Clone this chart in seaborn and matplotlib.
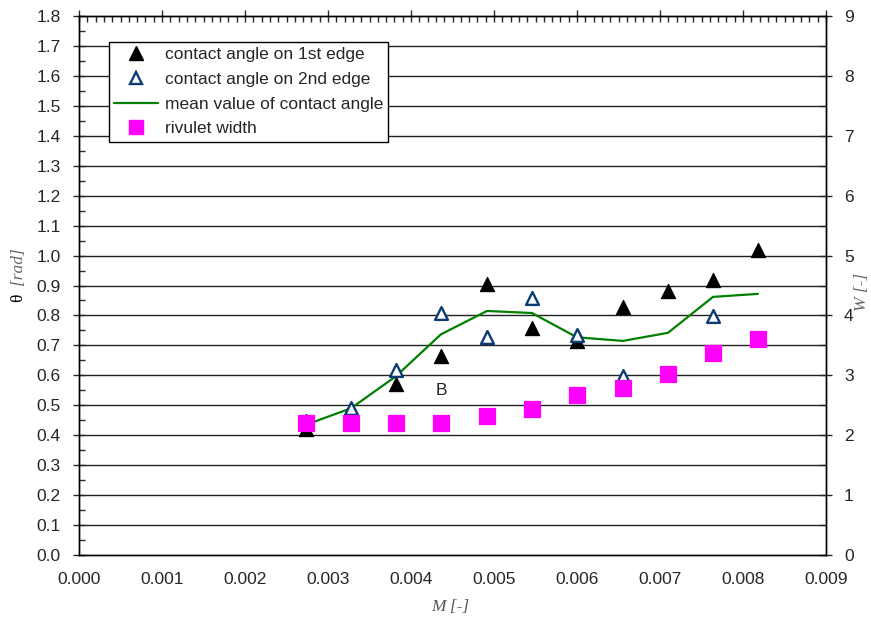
import numpy as np
import pandas as pd
import matplotlib
matplotlib.use("Agg")
import matplotlib.pyplot as plt
from matplotlib.ticker import MultipleLocator
from matplotlib.lines import Line2D
import seaborn as sns

M = [0.002735, 0.003277, 0.003819, 0.004361, 0.004916, 0.005458,
     0.006000, 0.006554, 0.007096, 0.007639, 0.008180]
theta_1st = [0.42, 0.485, 0.57, 0.665, 0.905, 0.757, 0.715, 0.828, 0.88, 0.92, 1.02]
theta_2nd = [0.448, 0.491, 0.618, 0.808, 0.728, 0.858, 0.735, 0.598, np.nan, 0.798, np.nan]
theta_mean = [0.435, 0.49, 0.597, 0.737, 0.815, 0.808, 0.727, 0.715, 0.742, 0.862, 0.872]
width = [2.20, 2.20, 2.20, 2.20, 2.32, 2.44, 2.67, 2.79, 3.03, 3.37, 3.60]

df = pd.DataFrame({"M": M, "t1": theta_1st, "t2": theta_2nd, "tm": theta_mean, "W": width})

sns.set_style("white")
plt.rcParams['font.family'] = ['Liberation Sans', 'DejaVu Sans']
FS = 12.5

fig = plt.figure(figsize=(8.71, 6.22), dpi=100)
ax = fig.add_axes([79/871, 67/622, (826-79)/871, (555-16)/622])
ax2 = ax.twinx()

ax.set_xlim(0, 0.009)
ax.set_ylim(0, 1.8)
ax2.set_ylim(0, 9)

for y in np.arange(0.1, 1.8, 0.1):
    ax.axhline(y, color='#222222', lw=1.0, zorder=0.5)

sns.lineplot(data=df, x="M", y="tm", ax=ax, color='#008000', lw=1.6, zorder=2,
             label="mean value of contact angle", legend=False)
sns.scatterplot(data=df, x="M", y="t1", ax=ax, marker='^', s=105, color='black',
                edgecolor='black', zorder=3, legend=False)
sns.scatterplot(data=df, x="M", y="t2", ax=ax, marker='^', s=85, facecolor='white',
                edgecolor='#0b3b73', linewidth=1.7, zorder=4, legend=False)
sns.scatterplot(data=df, x="M", y="W", ax=ax2, marker='s', s=125, color='#ff00ff',
                edgecolor='#ff00ff', zorder=5, legend=False)

ax.text(0.004361, 0.551, "B", ha='center', va='center', fontsize=FS,
        bbox=dict(facecolor='white', edgecolor='none', pad=3), zorder=2.5)

ax.xaxis.set_major_locator(MultipleLocator(0.001))
ax.xaxis.set_minor_locator(MultipleLocator(0.0001))
ax.yaxis.set_major_locator(MultipleLocator(0.1))
ax.yaxis.set_minor_locator(MultipleLocator(0.05))
ax2.yaxis.set_major_locator(MultipleLocator(1))
ax2.yaxis.set_minor_locator(MultipleLocator(0.5))
ax.xaxis.set_major_formatter(matplotlib.ticker.FormatStrFormatter('%.3f'))
ax.yaxis.set_major_formatter(matplotlib.ticker.FormatStrFormatter('%.1f'))

ax.tick_params(axis='x', which='major', direction='inout', length=8, width=1, labelsize=FS, top=True, pad=8)
ax.tick_params(axis='x', which='minor', direction='in', length=4, width=1, top=True)
ax.tick_params(axis='y', which='major', direction='inout', length=8, width=1, labelsize=FS, left=True, pad=9)
ax.tick_params(axis='y', which='minor', direction='in', length=4, width=1, left=True)
ax2.tick_params(axis='y', which='major', direction='inout', length=8, width=1, labelsize=FS, right=True, pad=9)
ax2.tick_params(axis='y', which='minor', direction='in', length=4, width=1, right=True)

for a in (ax, ax2):
    for sp in a.spines.values():
        sp.set_color('black')
        sp.set_linewidth(1.0)

ax.set_xlabel("")
ax.set_ylabel("")
ax2.set_ylabel("")
fig.text(450/871, 1 - 607/622, "M [-]", ha='center', va='center', fontsize=FS,
         family='Liberation Serif', style='italic', color='#555555')
fig.text(18/871, 1 - 298/622, "θ", ha='center', va='center', fontsize=FS, rotation=90,
         family='Liberation Serif', color='black')
fig.text(18/871, 1 - 266/622, "[rad]", ha='center', va='center', fontsize=FS, rotation=90,
         family='Liberation Serif', style='italic', color='#666666')
fig.text(862/871, 1 - 292/622, "W [-]", ha='center', va='center', fontsize=FS, rotation=90,
         family='Liberation Serif', style='italic', color='#666666')

handles = [
    Line2D([], [], marker='^', ls='none', color='black', markersize=10),
    Line2D([], [], marker='^', ls='none', markerfacecolor='white', markeredgecolor='#0b3b73',
           markeredgewidth=1.7, markersize=9),
    Line2D([], [], color='#008000', lw=1.6),
    Line2D([], [], marker='s', ls='none', color='#ff00ff', markersize=10),
]
labels = ["contact angle on 1st edge", "contact angle on 2nd edge",
          "mean value of contact angle", "rivulet width"]
leg = ax2.legend(handles, labels, loc='upper left',
                 bbox_to_anchor=((109-79)/(826-79), (555-42)/(555-16)),
                 frameon=True, fancybox=False, edgecolor='black', framealpha=1,
                 fontsize=FS, borderpad=0.3, labelspacing=0.55, handlelength=2.5,
                 handletextpad=0.4, borderaxespad=0)
leg.get_frame().set_linewidth(1.0)
leg.set_zorder(10)

fig.savefig("out.png", dpi=100)
